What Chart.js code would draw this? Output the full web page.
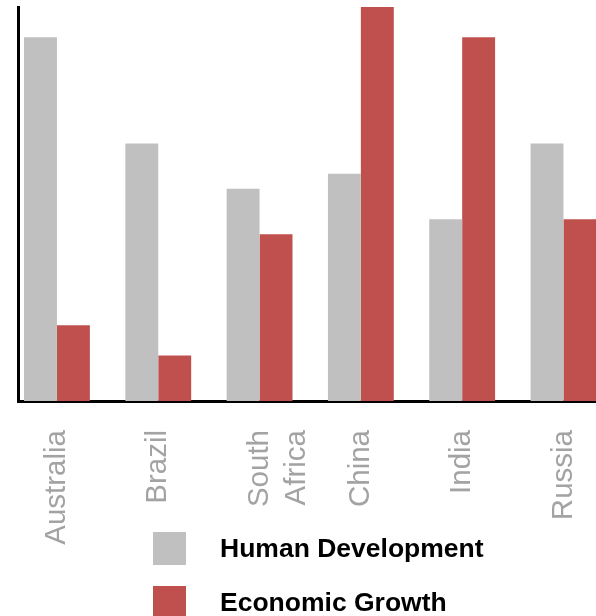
<!DOCTYPE html>
<html>
<head>
<meta charset="utf-8">
<script src="https://cdn.jsdelivr.net/npm/chart.js@4/dist/chart.umd.min.js"></script>
<style>
  html, body { margin: 0; padding: 0; background: #fff; overflow: hidden; }
  #wrap { position: relative; width: 596px; height: 616px; }
  canvas { position: absolute; left: 0; top: 0; }
  .leg { position: absolute; left: 153px; display: flex; align-items: center; height: 33px;
         font-family: "Liberation Sans", Arial, sans-serif; font-weight: bold; font-size: 26.5px; color: #000; white-space: nowrap; }
  .leg .box { width: 33px; height: 33px; margin-right: 34px; }
</style>
</head>
<body>
<div id="wrap">
  <canvas id="c" width="596" height="616"></canvas>
  <div class="leg" style="top:532px"><span class="box" id="b0"></span><span id="t0"></span></div>
  <div class="leg" style="top:586px"><span class="box" id="b1"></span><span id="t1"></span></div>
</div>
<script>
const categories = ['Australia', 'Brazil', ['South', 'Africa'], 'China', 'India', 'Russia'];
const seriesNames = ['Human Development', 'Economic Growth'];
const humanDevelopment = [24, 17, 14, 15, 12, 17];
const economicGrowth = [5, 3, 11, 26, 24, 12];
const colors = ['#C0C0C0', '#C0504D'];

const toPoints = arr => arr.map((v, i) => ({ x: i, y: v }));

document.getElementById('b0').style.background = colors[0];
document.getElementById('b1').style.background = colors[1];
document.getElementById('t0').textContent = seriesNames[0];
document.getElementById('t1').textContent = seriesNames[1];

new Chart(document.getElementById('c'), {
  type: 'bar',
  data: {
    datasets: [
      { label: seriesNames[0], data: toPoints(humanDevelopment), backgroundColor: colors[0], borderWidth: 0 },
      { label: seriesNames[1], data: toPoints(economicGrowth), backgroundColor: colors[1], borderWidth: 0 }
    ]
  },
  options: {
    responsive: false,
    animation: false,
    devicePixelRatio: 1,
    layout: { padding: { left: 18, top: 7, right: 0, bottom: 0 } },
    datasets: { bar: { categoryPercentage: 0.65, barPercentage: 1.0 } },
    plugins: { legend: { display: false }, tooltip: { enabled: false } },
    scales: {
      x: {
        type: 'linear',
        offset: false,
        min: -0.3845,
        max: 5.321,
        grid: { display: false, drawTicks: false, offset: false },
        border: { display: true, color: '#000', width: 3 },
        afterBuildTicks: s => { s.ticks = categories.map((_, i) => ({ value: i })); },
        afterFit: s => { s.height = 215; s.paddingLeft = 0; s.paddingRight = 0; },
        ticks: {
          autoSkip: false,
          minRotation: 90,
          maxRotation: 90,
          padding: 29,
          color: '#a3a3a3',
          font: { family: '"Liberation Sans", Arial, sans-serif', size: 29.5, lineHeight: 1.25 },
          callback: v => categories[v]
        }
      },
      y: {
        min: 0,
        max: 26,
        grid: { display: false, drawTicks: false },
        border: { display: true, color: '#000', width: 3 },
        ticks: { display: false },
        afterFit: s => { s.width = 0; }
      }
    }
  }
});
</script>
</body>
</html>
